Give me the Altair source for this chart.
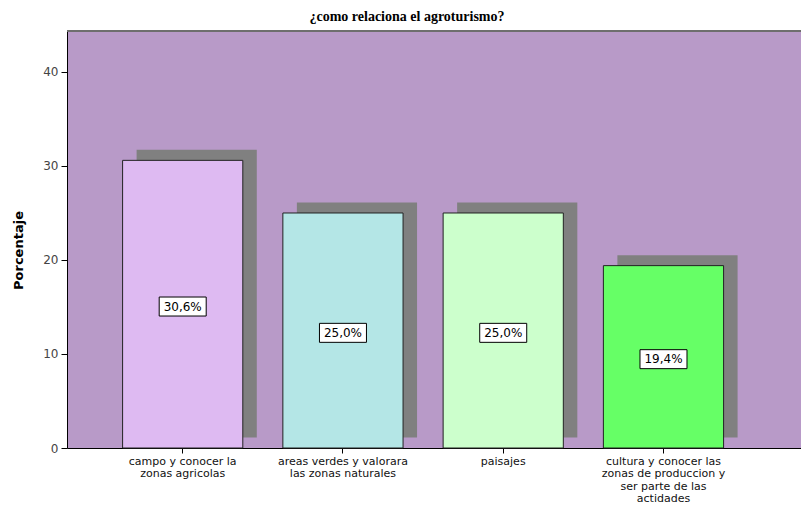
import altair as alt
import pandas as pd

categories = [
    "campo y conocer la|zonas agricolas",
    "areas verdes y valorara|las zonas naturales",
    "paisajes",
    "cultura y conocer las|zonas de produccion y|ser parte de las|actidades",
]
percentages = [30.6, 25.0, 25.0, 19.4]
bar_colors = ["#DEBAF2", "#B4E6E6", "#CCFFCC", "#66FF66"]
y_ticks = [0, 10, 20, 30, 40]

df = pd.DataFrame({"cat": categories, "pct": percentages})

W, H = 734, 417
FONT = "DejaVu Sans"

x_enc = alt.X(
    "cat:N",
    sort=categories,
    title=None,
    scale=alt.Scale(paddingInner=0.25, paddingOuter=0.415, align=0.418),
    axis=alt.Axis(
        labelExpr="split(datum.value, '|')",
        labelAngle=0,
        labelFont=FONT,
        labelFontSize=11,
        labelLineHeight=12.5,
        labelColor="#111111",
        labelPadding=2,
        labelBaseline="top",
        tickSize=5,
        tickColor="black",
        domainColor="black",
        labelLimit=300,
    ),
)
y_enc = alt.Y(
    "pct:Q",
    scale=alt.Scale(domain=[0, 44.36], nice=False),
    title="Porcentaje",
    axis=alt.Axis(
        values=y_ticks,
        grid=False,
        labelFont=FONT,
        labelFontSize=12,
        labelColor="#444444",
        labelPadding=3,
        tickSize=6,
        tickColor="black",
        domainColor="black",
        titleFont=FONT,
        titleFontSize=13,
        titleFontWeight="bold",
        titleColor="black",
        titleAngle=-90,
        titleX=-49,
        titleY=219,
        titleAlign="center",
        titleBaseline="middle",
    ),
)

base = alt.Chart(df).encode(x=x_enc)

shadow = base.mark_bar(
    color="#808080", xOffset=14, x2Offset=14, yOffset=-10.5, y2Offset=-10.5
).encode(y=y_enc)

bars = base.mark_bar(stroke="#222222", strokeWidth=1).encode(
    y=y_enc,
    color=alt.Color(
        "cat:N",
        scale=alt.Scale(domain=categories, range=bar_colors),
        legend=None,
    ),
)

mid = base.transform_calculate(
    mid="datum.pct / 2 - 0.25",
    lbl="replace(format(datum.pct, '.1f'), '.', ',') + '%'",
)

box = mid.mark_point(
    shape="M-1,-0.404L1,-0.404L1,0.404L-1,0.404Z",
    size=2209,
    filled=True,
    fill="white",
    stroke="black",
    strokeWidth=1,
    opacity=1,
).encode(y=alt.Y("mid:Q"))

label = mid.mark_text(
    font=FONT, fontSize=12, color="black", baseline="middle", align="center"
).encode(y=alt.Y("mid:Q"), text="lbl:N")

top_border = alt.Chart(pd.DataFrame({"a": [0]})).mark_rule(
    color="#6E6E6E", strokeWidth=2
).encode(y=alt.value(0), x=alt.value(0), x2=alt.value(W))

chart = (
    alt.layer(shadow, bars, box, label, top_border)
    .properties(
        width=W,
        height=H,
        title=alt.TitleParams(
            "¿como relaciona el agroturismo?",
            font="Liberation Serif",
            fontSize=14,
            fontWeight="bold",
            color="black",
            anchor="middle",
            frame="bounds",
            offset=6,
        ),
        autosize=alt.AutoSizeParams(type="none"),
        padding={"left": 59, "right": 0, "top": 23, "bottom": 58},
        background="white",
    )
    .configure_view(stroke=None, fill="#B89AC8")
)

chart.save("out.html", embed_options={"renderer": "svg", "actions": False})
